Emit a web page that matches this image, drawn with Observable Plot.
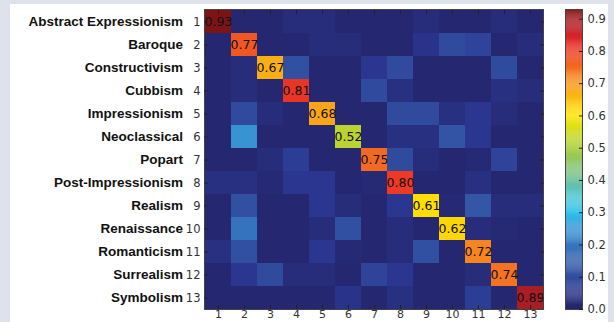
<!DOCTYPE html>
<html><head><meta charset="utf-8">
<script src="https://cdn.jsdelivr.net/npm/d3@7"></script>
<script src="https://cdn.jsdelivr.net/npm/@observablehq/plot@0.6"></script>
<style>
html,body{margin:0;padding:0;background:#dde2eb;width:614px;height:322px;overflow:hidden}
#panel{position:absolute;left:10px;top:4px;width:598px;height:330px;background:#fff}
#main,#cbar{position:absolute;left:0;top:0}
</style></head><body>
<div id="panel"></div><div id="main"></div><div id="cbar"></div>
<script>
// Categories (rows = true class, columns = predicted class index)
const rowNames = ["Abstract Expressionism","Baroque","Constructivism","Cubbism","Impressionism","Neoclassical","Popart","Post-Impressionism","Realism","Renaissance","Romanticism","Surrealism","Symbolism"];
const classIndex = [1,2,3,4,5,6,7,8,9,10,11,12,13];
// Confusion-matrix values
const matrix = [
  [0.93,0.01,0.01,0.03,0.03,0.01,0.01,0.01,0.03,0.01,0.01,0.03,0.01],
  [0.01,0.77,0.01,0.01,0.03,0.03,0.01,0.01,0.05,0.09,0.08,0.01,0.03],
  [0.01,0.03,0.67,0.10,0.01,0.01,0.06,0.09,0.01,0.01,0.01,0.09,0.01],
  [0.01,0.03,0.01,0.81,0.01,0.01,0.09,0.04,0.01,0.01,0.01,0.04,0.03],
  [0.01,0.09,0.03,0.01,0.68,0.01,0.01,0.09,0.09,0.04,0.06,0.03,0.01],
  [0.01,0.24,0.01,0.01,0.01,0.52,0.01,0.04,0.04,0.11,0.06,0.01,0.01],
  [0.01,0.01,0.03,0.07,0.01,0.01,0.75,0.09,0.03,0.01,0.02,0.08,0.01],
  [0.04,0.04,0.02,0.06,0.06,0.01,0.02,0.80,0.01,0.01,0.04,0.01,0.01],
  [0.01,0.10,0.01,0.01,0.06,0.03,0.01,0.06,0.61,0.02,0.12,0.03,0.03],
  [0.01,0.19,0.01,0.01,0.03,0.10,0.01,0.03,0.01,0.62,0.03,0.02,0.01],
  [0.04,0.10,0.01,0.01,0.06,0.02,0.01,0.03,0.10,0.01,0.72,0.01,0.01],
  [0.01,0.06,0.09,0.03,0.03,0.01,0.08,0.06,0.01,0.01,0.03,0.74,0.01],
  [0.01,0.01,0.01,0.01,0.01,0.05,0.01,0.04,0.01,0.01,0.07,0.01,0.89]
];
const colorbarTicks = [0,0.1,0.2,0.3,0.4,0.5,0.6,0.7,0.8,0.9];
const vmax = 0.93;

// jet-like palette as seen in the picture
const stopV = [0,0.03,0.06,0.10,0.15,0.20,0.25,0.30,0.35,0.40,0.45,0.50,0.55,0.60,0.65,0.70,0.75,0.80,0.85,0.90,0.93];
const stopC = ["#24256a","#272d7b","#2a3690","#3250a2","#3560ad","#3678c2","#3a98d6","#2fc4ef","#52c6cf","#6fc09c","#8ec46a","#a9cd3b","#d3dd22","#ffe600","#fcbe12","#f8951d","#f26a22","#ee3a24","#d2222a","#a01c22","#7c1416"];
const jet = d3.scaleLinear().domain(stopV).range(stopC).interpolate(d3.interpolateRgb).clamp(true);
const jetInterp = t => jet(t * vmax);

const cells = [];
matrix.forEach((r, i) => r.forEach((v, j) => cells.push({row: classIndex[i], col: classIndex[j], value: v})));
const diag = cells.filter(d => d.row === d.col);

const colorScale = {type: "linear", domain: [0, vmax], interpolate: jetInterp};
const numFont = {fontFamily: "DejaVu Sans", fontSize: 11, fill: "#333"};

const main = Plot.plot({
  width: 614, height: 322,
  marginLeft: 204, marginRight: 71, marginTop: 9, marginBottom: 13,
  style: {background: "transparent", fontFamily: "DejaVu Sans", fontSize: "11px", color: "#333", overflow: "visible"},
  x: {type: "band", domain: classIndex, padding: 0},
  y: {type: "band", domain: classIndex, padding: 0},
  color: colorScale,
  marks: [
    Plot.cell(cells, {x: "col", y: "row", fill: "value"}),
    Plot.text(diag, {x: "col", y: "row", text: d => d.value.toFixed(2), fill: "#111", fontSize: 12.5, fontFamily: "DejaVu Sans"}),
    Plot.frame({stroke: "#444"}),
    Plot.axisX({anchor: "bottom", tickSize: 0, tickPadding: 1, label: null, ...numFont}),
    Plot.axisX({anchor: "bottom", tickSize: -4, tickFormat: () => "", label: null, stroke: "#222"}),
    Plot.axisX({anchor: "top", tickSize: -4, tickFormat: () => "", label: null, stroke: "#222"}),
    Plot.axisY({anchor: "left", tickSize: 0, tickPadding: 4, label: null, ...numFont, fontSize: 11.5}),
    Plot.axisY({anchor: "left", tickSize: -4, tickFormat: () => "", label: null, stroke: "#222"}),
    Plot.axisY({anchor: "right", tickSize: -4, tickFormat: () => "", label: null, stroke: "#222"}),
    Plot.axisY({anchor: "left", tickSize: 0, tickPadding: 21.5, label: null, tickFormat: i => rowNames[i - 1],
      fontFamily: "Liberation Sans", fontWeight: "bold", fontSize: 13.5, fill: "#111"})
  ]
});
document.getElementById("main").append(main);

// colorbar gradient samples
const steps = d3.range(0, vmax, 0.003);
const cbar = Plot.plot({
  width: 614, height: 322,
  marginLeft: 565, marginRight: 32, marginTop: 9, marginBottom: 13,
  style: {background: "transparent", fontFamily: "DejaVu Sans", fontSize: "11.5px", color: "#333"},
  y: {domain: [0, vmax]},
  color: colorScale,
  marks: [
    Plot.rect(steps, {y1: d => d, y2: d => Math.min(d + 0.0035, vmax), fill: d => d}),
    Plot.frame({stroke: "#444"}),
    Plot.axisY({anchor: "right", ticks: colorbarTicks, tickSize: -4, tickFormat: () => "", label: null, stroke: "#222"}),
    Plot.axisY({anchor: "right", ticks: colorbarTicks, tickSize: 0, tickPadding: 5, tickFormat: d3.format(".1f"), label: null, ...numFont, fontSize: 11.5})
  ]
});
document.getElementById("cbar").append(cbar);
</script>
</body></html>
